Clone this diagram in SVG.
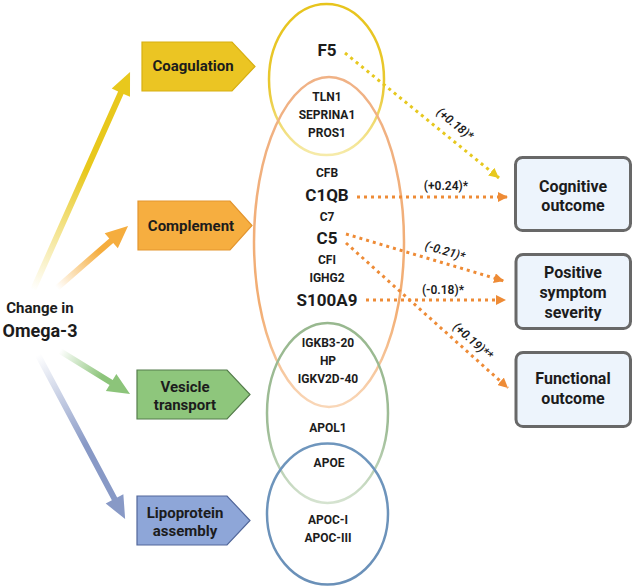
<svg xmlns="http://www.w3.org/2000/svg" width="633" height="586" viewBox="0 0 633 586">
<style>
text{font-family:Roboto,"Liberation Sans",sans-serif;font-weight:700;fill:#1c1c1c;text-anchor:middle}
.g{font-size:12px}
.gb{font-size:17px}
.cat{font-size:15px}
.out{font-size:16px}
.lbl{font-size:12px;font-weight:600}
.it{font-style:italic}
.dy{fill:none;stroke:#e7c81e;stroke-width:3;stroke-dasharray:3 4}
.do{fill:none;stroke:#ee8b36;stroke-width:3;stroke-dasharray:3 4}
.ob{fill:#edf4fc;stroke:#686868;stroke-width:3}
</style>
<defs>
<marker id="ay" viewBox="0 0 10 10" refX="10" refY="5" markerWidth="10" markerHeight="10" markerUnits="userSpaceOnUse" orient="auto"><path d="M0,0 L10,5 L0,10 Z" fill="#e7c81e"/></marker>
<marker id="ao" viewBox="0 0 10 10" refX="10" refY="5" markerWidth="10" markerHeight="10" markerUnits="userSpaceOnUse" orient="auto"><path d="M0,0 L10,5 L0,10 Z" fill="#ee8b36"/></marker>
<linearGradient id="gy" x1="0" y1="0" x2="1" y2="0"><stop offset="0" stop-color="#e8c81c" stop-opacity="0"/><stop offset="0.55" stop-color="#e8c81c"/><stop offset="1" stop-color="#e8c81c"/></linearGradient>
<linearGradient id="go" x1="0" y1="0" x2="1" y2="0"><stop offset="0" stop-color="#f5ad3e" stop-opacity="0"/><stop offset="0.6" stop-color="#f5ad3e"/><stop offset="1" stop-color="#f5ad3e"/></linearGradient>
<linearGradient id="gg" x1="0" y1="0" x2="1" y2="0"><stop offset="0" stop-color="#8cc47a" stop-opacity="0"/><stop offset="0.6" stop-color="#8cc47a"/><stop offset="1" stop-color="#8cc47a"/></linearGradient>
<linearGradient id="gb" x1="0" y1="0" x2="1" y2="0"><stop offset="0" stop-color="#8899c6" stop-opacity="0"/><stop offset="0.55" stop-color="#8899c6"/><stop offset="1" stop-color="#8899c6"/></linearGradient>
<linearGradient id="ey" x1="0" y1="0" x2="0" y2="1"><stop offset="0" stop-color="#e7c41c"/><stop offset="0.55" stop-color="#e9c830"/><stop offset="1" stop-color="#f6ebaa"/></linearGradient>
<linearGradient id="eo" x1="0" y1="0" x2="0" y2="1"><stop offset="0" stop-color="#f0b286"/><stop offset="0.7" stop-color="#f2ad72"/><stop offset="1" stop-color="#f9d7b8"/></linearGradient>
<linearGradient id="eg" x1="0" y1="0" x2="0" y2="1"><stop offset="0" stop-color="#98b88f"/><stop offset="0.6" stop-color="#9fbd97"/><stop offset="1" stop-color="#d5e3d0"/></linearGradient>
<linearGradient id="eb" x1="0" y1="0" x2="0" y2="1"><stop offset="0" stop-color="#6f96bd"/><stop offset="1" stop-color="#6a90b8"/></linearGradient>
</defs>

<g id="omega3">
<text x="40" y="313" style="font-size:15px">Change in</text>
<text x="40" y="337" style="font-size:18px">Omega-3</text>
</g>

<g id="source-arrows">
<polygon transform="translate(33,290) rotate(-66)" points="0,-3 216,-3 216,-10 238.6,0 216,10 216,3 0,3" fill="url(#gy)"/>
<polygon transform="translate(57,288) rotate(-41.1)" points="0,-3 72,-3 72,-10 94.3,0 72,10 72,3 0,3" fill="url(#go)"/>
<polygon transform="translate(60,351) rotate(31.6)" points="0,-3 60,-3 60,-10 82.2,0 60,10 60,3 0,3" fill="url(#gg)"/>
<polygon transform="translate(38,355) rotate(62)" points="0,-3 163,-3 163,-10 185.6,0 163,10 163,3 0,3" fill="url(#gb)"/>
</g>

<g id="coagulation">
<path d="M142,42 H232 L255,66.5 L232,91 H142 Z" fill="#ebc523" stroke="#d8b012" stroke-width="1.2"/>
<text class="cat" x="193" y="71">Coagulation</text>
</g>
<g id="complement">
<path d="M138,201 H230 L252,225.5 L230,250 H138 Z" fill="#f6ae40" stroke="#e3952f" stroke-width="1.2"/>
<text class="cat" x="191" y="231">Complement</text>
</g>
<g id="vesicle-transport">
<path d="M137,370 H227 L250,394.5 L227,419 H137 Z" fill="#8ec67c" stroke="#557d4c" stroke-width="1.2"/>
<text class="cat" x="185" y="392">Vesicle</text>
<text class="cat" x="185" y="410">transport</text>
</g>
<g id="lipoprotein-assembly">
<path d="M137,496 H227 L250,520.5 L227,545 H137 Z" fill="#8ea6d8" stroke="#52679a" stroke-width="1.2"/>
<text class="cat" x="185" y="518">Lipoprotein</text>
<text class="cat" x="185" y="536">assembly</text>
</g>

<g id="sets">
<ellipse cx="326.5" cy="79.5" rx="57.5" ry="75.5" fill="none" stroke="url(#ey)" stroke-width="2.5"/>
<ellipse cx="329" cy="242" rx="75" ry="165" fill="none" stroke="url(#eo)" stroke-width="2.5"/>
<ellipse cx="327.5" cy="413" rx="60.5" ry="90" fill="none" stroke="url(#eg)" stroke-width="2.5"/>
<ellipse cx="327.5" cy="514" rx="60.5" ry="70.5" fill="none" stroke="url(#eb)" stroke-width="2.5"/>
</g>

<g id="genes">
<text class="gb" x="327" y="56">F5</text>
<text class="g" x="327" y="101">TLN1</text>
<text class="g" x="327" y="119">SEPRINA1</text>
<text class="g" x="327" y="137">PROS1</text>
<text class="g" x="327" y="177">CFB</text>
<text class="gb" x="327" y="201">C1QB</text>
<text class="g" x="327" y="221">C7</text>
<text class="gb" x="327" y="244">C5</text>
<text class="g" x="327" y="264">CFI</text>
<text class="g" x="327" y="282">IGHG2</text>
<text class="gb" x="327" y="306">S100A9</text>
<text class="g" x="328" y="347">IGKB3-20</text>
<text class="g" x="328" y="365">HP</text>
<text class="g" x="328" y="383">IGKV2D-40</text>
<text class="g" x="328" y="432">APOL1</text>
<text class="g" x="329" y="467">APOE</text>
<text class="g" x="328" y="524">APOC-I</text>
<text class="g" x="328" y="542">APOC-III</text>
</g>

<g id="cognitive-outcome">
<rect class="ob" x="515.5" y="157.5" width="115" height="73" rx="7"/>
<text class="out" x="573" y="192">Cognitive</text>
<text class="out" x="573" y="211">outcome</text>
</g>
<g id="positive-symptom-severity">
<rect class="ob" x="516" y="254.5" width="114.5" height="74" rx="7"/>
<text class="out" x="573" y="278">Positive</text>
<text class="out" x="573" y="298">symptom</text>
<text class="out" x="573" y="318">severity</text>
</g>
<g id="functional-outcome">
<rect class="ob" x="516" y="352.5" width="114.5" height="74" rx="7"/>
<text class="out" x="573" y="384">Functional</text>
<text class="out" x="573" y="404">outcome</text>
</g>

<g id="connectors">
<line class="dy" x1="345" y1="53" x2="499" y2="178" marker-end="url(#ay)"/>
<line class="do" x1="357" y1="197" x2="508" y2="197" marker-end="url(#ao)"/>
<line class="do" x1="346" y1="234" x2="504" y2="281" marker-end="url(#ao)"/>
<line class="do" x1="366" y1="300" x2="506" y2="300" marker-end="url(#ao)"/>
<line class="do" x1="346" y1="243" x2="508" y2="388" marker-end="url(#ao)"/>
<text class="lbl it" transform="translate(455,124) rotate(39)" x="0" y="4">(+0.18)*</text>
<text class="lbl" x="446" y="190">(+0.24)*</text>
<text class="lbl it" transform="translate(445,251) rotate(16.5)" x="0" y="4">(-0.21)*</text>
<text class="lbl" x="443" y="294">(-0.18)*</text>
<text class="lbl it" transform="translate(473,341) rotate(41.6)" x="0" y="4">(+0.19)**</text>
</g>
</svg>
